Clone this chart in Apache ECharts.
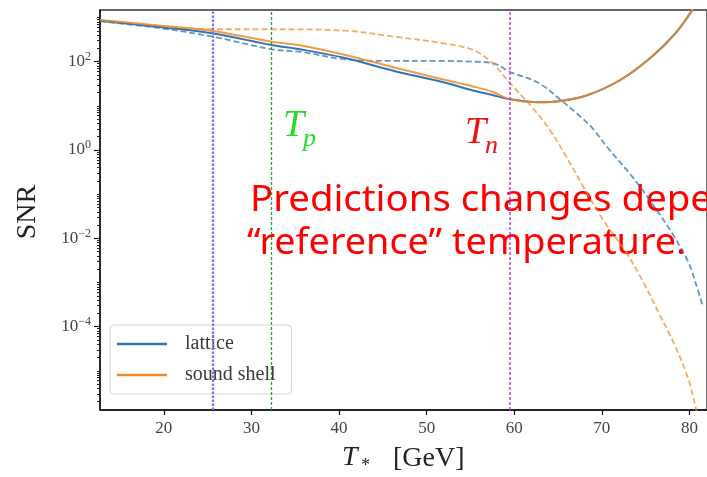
<!DOCTYPE html>
<html>
<head>
<meta charset="utf-8">
<script src="https://cdn.jsdelivr.net/npm/echarts@6/dist/echarts.min.js"></script>
<style>
  html, body { margin: 0; padding: 0; background: #fff; }
  #chart { width: 707px; height: 477px; }
</style>
</head>
<body>
<div id="chart"></div>
<script>
// SNR versus reference temperature T* (GeV): [T, SNR] pairs
const latticeSolid = [
  [12.72, 848], [19.4, 611], [25.6, 435], [32.3, 239], [35.7, 189], [40.7, 121],
  [46.3, 61.5], [51.9, 34.3], [55.3, 22.3], [57.5, 17.6], [59.5, 14.1],
  [62.8, 12.1], [65.3, 12.9], [68.4, 17.6], [72.1, 38.5], [75.7, 130],
  [78.4, 440], [80.2, 1355], [81.2, 2800]
];
const soundShellSolid = [
  [12.72, 879], [19.4, 661], [25.6, 495], [32.3, 284], [35.7, 233], [40.7, 142],
  [46.3, 74], [51.9, 39.5], [55.3, 27.5], [57.5, 20.9], [59.5, 14.1],
  [62.8, 12.1], [65.3, 12.9], [68.4, 17.6], [72.1, 38.5], [75.7, 130],
  [78.4, 440], [80.2, 1355], [81.2, 2800]
];
const latticeDashed = [
  [12.72, 820], [19.4, 580], [25.6, 368], [32.3, 191], [35.7, 166], [40.7, 113],
  [46.3, 104], [51.9, 104], [55.3, 100], [57.5, 93.5], [59.5, 59], [62.8, 33],
  [65.3, 13.6], [67.6, 5.6], [68.9, 3.16], [70.6, 1.17], [73.5, 0.245],
  [75.7, 0.063], [78.0, 0.0132], [79.9, 0.0028], [80.7, 0.00098], [81.5, 0.0003]
];
const soundShellDashed = [
  [12.72, 870], [19.4, 650], [25.6, 542], [32.3, 542], [40.7, 504], [46.3, 368],
  [51.9, 261], [55.3, 184], [57.5, 93.5], [59.5, 33], [62.0, 9.4], [63.9, 3.16],
  [65.7, 0.857], [67.9, 0.146], [70.15, 0.0261], [72.8, 0.00467], [74.6, 0.00114],
  [76.5, 0.000205], [78.4, 3.5e-5], [79.9, 6.2e-6], [80.7, 1.5e-6], [81.2, 5e-7]
];
// vertical reference temperatures: T*, T_p, T_n
const refTemps = [25.6, 32.3, 59.5];
const xTicks = [20, 30, 40, 50, 60, 70, 80];
const yTicks = [1e-4, 1e-2, 1, 1e2];

const X_MIN = 12.72, X_MAX = 82;
const Y_MIN = Math.pow(10, -5.886), Y_MAX = Math.pow(10, 3.170);

// minor ticks on the log axis (k * 10^n)
const minorTicks = [];
for (let n = -6; n <= 3; n++) {
  for (let k = 1; k <= 9; k++) {
    const v = k * Math.pow(10, n);
    if (v > Y_MIN && v < Y_MAX) minorTicks.push(v);
  }
}

const BLUE = '#2f76b0';
const ORANGE = '#f08a2a';
const SERIF = '"Liberation Serif", "DejaVu Serif", serif';
const HAND = '"Noto Sans", sans-serif';
const refStyles = [
  { color: '#7676dc', type: [2.5, 1.5], width: 2.2 },
  { color: '#2f9a3a', type: [3, 2], width: 1.3 },
  { color: '#c040d8', type: [3, 2], width: 1.5 }
];

function powLabel(v) {
  const e = Math.round(Math.log10(v));
  const s = e < 0 ? '\u2212' + (-e) : String(e);
  return '{b|10}{e|' + s + '}';
}

const chart = echarts.init(document.getElementById('chart'), null, { renderer: 'canvas' });
chart.setOption({
  animation: false,
  backgroundColor: '#fff',
  grid: {
    show: true, left: 100, top: 10, width: 619, height: 400,
    borderColor: '#333', borderWidth: 1.4, backgroundColor: 'transparent'
  },
  legend: {
    data: [
      { name: 'lattice', icon: 'rect', itemStyle: { color: BLUE } },
      { name: 'sound shell', icon: 'rect', itemStyle: { color: ORANGE } }
    ],
    orient: 'vertical',
    left: 110, top: 325,
    itemWidth: 50, itemHeight: 2.5, itemGap: 11,
    padding: [9, 16, 9, 7],
    backgroundColor: 'rgba(255,255,255,0.8)',
    borderColor: '#d4d4d4', borderWidth: 1, borderRadius: 4,
    textStyle: { fontFamily: SERIF, fontSize: 20, color: '#3a3a3a', padding: [0, 0, 0, 13] }
  },
  xAxis: {
    type: 'value', min: X_MIN, max: X_MAX,
    axisLine: { lineStyle: { color: '#111', width: 1.5 } },
    axisTick: { customValues: xTicks, length: 5, lineStyle: { color: '#111', width: 1.2 } },
    axisLabel: {
      customValues: xTicks, margin: 10,
      fontFamily: SERIF, fontSize: 17, color: '#444'
    },
    splitLine: { show: false }
  },
  yAxis: [
    {
      type: 'log', logBase: 10, min: Y_MIN, max: Y_MAX,
      axisLine: { show: true, lineStyle: { color: '#111', width: 1.5 } },
      axisTick: { customValues: yTicks, length: 6, lineStyle: { color: '#111', width: 1.2 } },
      axisLabel: {
        customValues: yTicks, margin: 9,
        formatter: powLabel,
        rich: {
          b: { fontFamily: SERIF, fontSize: 17, color: '#444' },
          e: { fontFamily: SERIF, fontSize: 12, color: '#444', padding: [0, 0, 10, 0] }
        }
      },
      splitLine: { show: false }
    },
    {
      type: 'log', logBase: 10, min: Y_MIN, max: Y_MAX, position: 'left',
      axisLine: { show: false },
      axisTick: { customValues: minorTicks, length: 3, lineStyle: { color: '#222', width: 1 } },
      axisLabel: { show: false },
      splitLine: { show: false }
    }
  ],
  series: [
    {
      name: 'lattice', type: 'line', data: latticeSolid, symbol: 'none', smooth: 0.35,
      lineStyle: { color: BLUE, width: 2 }, itemStyle: { color: BLUE }, z: 3,
      markLine: {
        silent: true, symbol: ['none', 'none'], label: { show: false },
        data: refTemps.map((t, i) => ({ xAxis: t, lineStyle: refStyles[i] }))
      }
    },
    {
      name: 'sound shell', type: 'line', data: soundShellSolid, symbol: 'none', smooth: 0.35,
      lineStyle: { color: ORANGE, width: 2, opacity: 0.85 }, itemStyle: { color: ORANGE }, z: 4
    },
    {
      name: 'lattice (shifted reference)', type: 'line', data: latticeDashed, symbol: 'none', smooth: 0.35,
      lineStyle: { color: BLUE, width: 1.8, type: [6, 3], opacity: 0.75 }, z: 2
    },
    {
      name: 'sound shell (shifted reference)', type: 'line', data: soundShellDashed, symbol: 'none', smooth: 0.35,
      lineStyle: { color: ORANGE, width: 1.8, type: [6, 3], opacity: 0.7 }, z: 2
    }
  ],
  graphic: [
    { type: 'text', x: 28, y: 212, rotation: Math.PI / 2,
      style: { text: 'SNR', font: '28px ' + SERIF, fill: '#222', align: 'center', verticalAlign: 'middle' } },
    { type: 'text', x: 342, y: 458,
      style: { text: 'T', font: 'italic 28px ' + SERIF, fill: '#222', align: 'left', verticalAlign: 'middle' } },
    { type: 'text', x: 361, y: 466,
      style: { text: '*', font: '18px ' + SERIF, fill: '#222', align: 'left', verticalAlign: 'middle' } },
    { type: 'text', x: 393, y: 459,
      style: { text: '[GeV]', font: '28px ' + SERIF, fill: '#222', align: 'left', verticalAlign: 'middle' } },
    { type: 'text', x: 283, y: 126,
      style: { text: 'T', font: 'italic 38px ' + SERIF, fill: '#22dd22', align: 'left', verticalAlign: 'middle' } },
    { type: 'text', x: 303, y: 139,
      style: { text: 'p', font: 'italic 26px ' + SERIF, fill: '#22dd22', align: 'left', verticalAlign: 'middle' } },
    { type: 'text', x: 465, y: 133,
      style: { text: 'T', font: 'italic 38px ' + SERIF, fill: '#ee1111', align: 'left', verticalAlign: 'middle' } },
    { type: 'text', x: 485, y: 146,
      style: { text: 'n', font: 'italic 26px ' + SERIF, fill: '#ee1111', align: 'left', verticalAlign: 'middle' } },
    { type: 'text', x: 250, y: 201, scaleX: 1.065,
      style: { text: 'Predictions changes depending on the', font: '36px ' + HAND, fill: '#ff0000', align: 'left', verticalAlign: 'middle' } },
    { type: 'text', x: 247, y: 244, scaleX: 1.05,
      style: { text: '\u201creference\u201d temperature.', font: '36px ' + HAND, fill: '#ff0000', align: 'left', verticalAlign: 'middle' } }
  ]
});
</script>
</body>
</html>
